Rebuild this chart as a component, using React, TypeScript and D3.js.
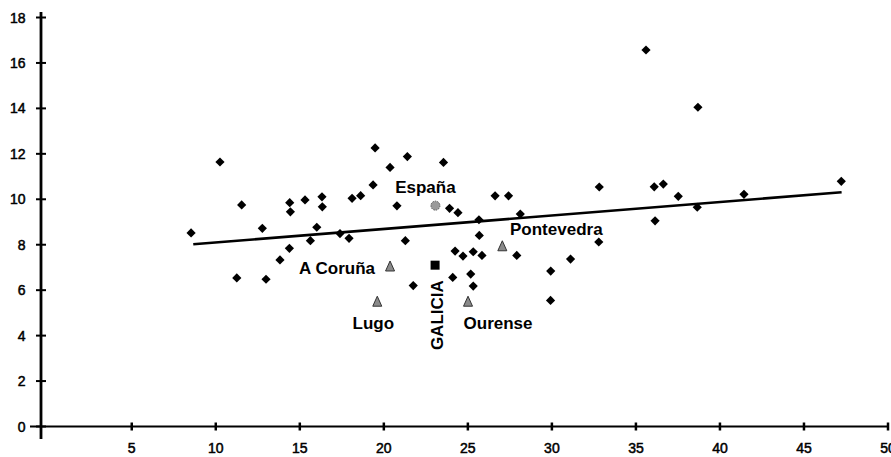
import React from "react";
import * as d3 from "d3";

const W = 891;
const H = 457;

// Diamond points (x, y)
const pointsX = [
  8.53, 10.25, 11.54, 11.25, 12.77, 12.99, 13.82, 14.38, 14.4, 14.44, 15.31, 15.63, 16.01, 16.32,
  16.34, 17.39, 17.93, 18.11, 18.62, 19.36, 19.48, 20.37, 20.78, 21.28, 21.4, 21.75, 23.55, 23.91,
  24.41, 24.1, 24.24, 24.71, 25.17, 25.32, 25.32, 25.66, 25.68, 25.84, 26.62, 27.42, 27.91, 28.12,
  29.93, 29.92, 31.11, 32.79, 32.82, 35.6, 36.09, 36.63, 36.14, 37.52, 38.65, 38.69, 41.43, 47.22,
];
const pointsY = [
  8.52, 11.64, 9.75, 6.54, 8.72, 6.48, 7.33, 7.84, 9.85, 9.45, 9.97, 8.18, 8.77, 10.11,
  9.67, 8.49, 8.28, 10.04, 10.16, 10.63, 12.26, 11.4, 9.71, 8.18, 11.88, 6.2, 11.62, 9.6,
  9.41, 6.56, 7.72, 7.5, 6.71, 7.69, 6.18, 9.1, 8.41, 7.53, 10.15, 10.15, 7.53, 9.35,
  6.84, 5.55, 7.37, 8.12, 10.54, 16.57, 10.55, 10.67, 9.05, 10.13, 9.65, 14.05, 10.22, 10.79,
];

// Trend line endpoints
const trendX = [8.66, 47.24];
const trendY = [8.02, 10.31];

// Provinces (triangles)
const provNames = ["A Coruña", "Lugo", "Ourense", "Pontevedra"];
const provX = [20.37, 19.61, 25.01, 27.05];
const provY = [7.02, 5.47, 5.47, 7.91];

// España & Galicia
const espX = 23.07;
const espY = 9.72;
const galX = 23.05;
const galY = 7.1;

const xTicks = [5, 10, 15, 20, 25, 30, 35, 40, 45, 50];
const yTicks = [0, 2, 4, 6, 8, 10, 12, 14, 16, 18];

const FONT = "'Liberation Sans', Arial, Helvetica, sans-serif";

export default function App() {
  const x = d3.scaleLinear().domain([-0.4, 50]).range([41, 888]);
  const y = d3.scaleLinear().domain([0, 18]).range([426.5, 17.5]);

  const line = d3
    .line<number>()
    .x((d) => x(trendX[d]))
    .y((d) => y(trendY[d]));

  const diamond = (cx: number, cy: number, r: number) =>
    `M${cx},${cy - r}L${cx + r},${cy}L${cx},${cy + r}L${cx - r},${cy}Z`;
  const triangle = (cx: number, cy: number) =>
    `M${cx},${cy - 6}L${cx + 4.5},${cy + 4}L${cx - 4.5},${cy + 4}Z`;

  const x0 = x(-0.4);
  const y0 = y(0);

  // label offsets relative to marker (text layout)
  const provLabel = [
    { dx: -53, dy: 7, anchor: "middle" },
    { dx: -4, dy: 27, anchor: "middle" },
    { dx: 30, dy: 27, anchor: "middle" },
    { dx: 54, dy: -12, anchor: "middle" },
  ];

  return (
    <svg
      width={W}
      height={H}
      style={{ position: "absolute", left: 0, top: 0, background: "#fff" }}
      fontFamily={FONT}
    >
      <rect x={0} y={0} width={W} height={H} fill="#fff" />
      {/* axes */}
      <line x1={x0} y1={12} x2={x0} y2={439} stroke="#000" strokeWidth={2.8} />
      <line x1={30} y1={y0} x2={888} y2={y0} stroke="#000" strokeWidth={2.2} />
      {yTicks.map((t) => (
        <g key={"y" + t}>
          <line x1={x0 - 5} x2={x0 + 5} y1={y(t)} y2={y(t)} stroke="#000" strokeWidth={2} />
          <text x={25.5} y={y(t)} dy="0.36em" textAnchor="end" fontSize={14} fill="#000" stroke="#000" strokeWidth={0.5}>
            {t}
          </text>
        </g>
      ))}
      {xTicks.map((t) => (
        <g key={"x" + t}>
          <line x1={x(t)} x2={x(t)} y1={y0 - 4} y2={y0 + 4} stroke="#000" strokeWidth={2.5} />
          <text x={x(t)} y={453} textAnchor="middle" fontSize={14} fill="#000" stroke="#000" strokeWidth={0.5}>
            {t}
          </text>
        </g>
      ))}
      {/* trend line */}
      <path d={line([0, 1]) || ""} stroke="#000" strokeWidth={2.6} fill="none" />
      {/* diamonds */}
      {pointsX.map((px, i) => (
        <path key={"p" + i} d={diamond(x(px), y(pointsY[i]), 4.6)} fill="#000" />
      ))}
      {/* provinces */}
      {provX.map((px, i) => (
        <g key={"pr" + i}>
          <path
            d={triangle(x(px), y(provY[i]))}
            fill="#8a8a8a"
            stroke="#333"
            strokeWidth={1}
          />
          <text
            x={x(px) + provLabel[i].dx}
            y={y(provY[i]) + provLabel[i].dy}
            textAnchor={provLabel[i].anchor as any}
            fontSize={17}
            fontWeight="bold"
            fill="#000"
          >
            {provNames[i]}
          </text>
        </g>
      ))}
      {/* España */}
      <circle cx={x(espX)} cy={y(espY)} r={4.5} fill="#9a9a9a" stroke="#555" strokeWidth={1} strokeDasharray="1.5,1" />
      <text x={x(espX) - 10} y={y(espY) - 12.7} textAnchor="middle" fontSize={17} fontWeight="bold" fill="#000">
        España
      </text>
      {/* Galicia */}
      <rect x={x(galX) - 4.5} y={y(galY) - 4.5} width={9} height={9} fill="#000" />
      <text
        transform={`translate(${x(galX) + 8},${y(galY) + 50}) rotate(-90)`}
        textAnchor="middle"
        fontSize={17}
        fontWeight="bold"
        fill="#000"
      >
        GALICIA
      </text>
    </svg>
  );
}
